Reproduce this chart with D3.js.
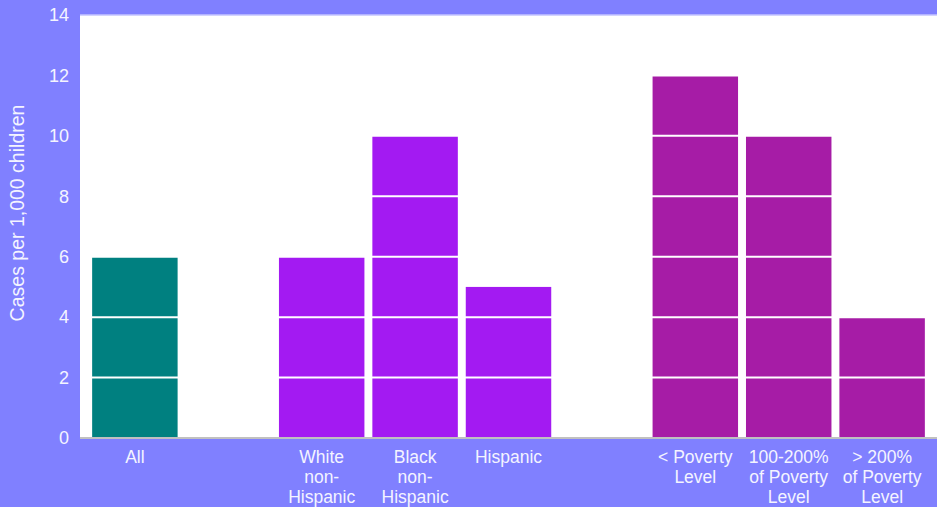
<!DOCTYPE html>
<html>
<head>
<meta charset="utf-8">
<script src="https://cdn.jsdelivr.net/npm/d3@7"></script>
<style>
  html, body { margin: 0; padding: 0; background: #8080ff; }
  svg { display: block; }
</style>
</head>
<body>
<div id="chart"></div>
<script>
// categories (empty slots keep the gaps between groups)
var categories = ["All", "gap1", "White non-Hispanic", "Black non-Hispanic", "Hispanic", "gap2", "< Poverty Level", "100-200% of Poverty Level", "> 200% of Poverty Level"];
var labelLines = [["All"], [], ["White", "non-", "Hispanic"], ["Black", "non-", "Hispanic"], ["Hispanic"], [], ["< Poverty", "Level"], ["100-200%", "of Poverty", "Level"], ["> 200%", "of Poverty", "Level"]];
var values = [6, null, 6, 10, 5, null, 12, 10, 4];
var groups = ["all", null, "race", "race", "race", null, "poverty", "poverty", "poverty"];
var yTicks = [0, 2, 4, 6, 8, 10, 12, 14];

var colors = {all: "#008080", race: "#a31af2", poverty: "#a61ca6"};

var W = 937, H = 507;
var margin = {top: 15, right: 0, bottom: 69, left: 80};
var width = W - margin.left - margin.right;
var height = H - margin.top - margin.bottom;

var svg = d3.select("#chart").append("svg")
    .attr("width", W)
    .attr("height", H)
    .style("font-family", "'Liberation Sans', Arial, sans-serif");

svg.append("rect").attr("width", W).attr("height", H).attr("fill", "#8080ff");

var g = svg.append("g").attr("transform", "translate(" + margin.left + "," + margin.top + ")");

var x = d3.scaleBand().domain(categories).range([0, width]).paddingInner(0.085).paddingOuter(0.13);
var y = d3.scaleLinear().domain([0, 14]).range([height, 0]);

// plot area
g.append("rect").attr("width", width).attr("height", height).attr("fill", "white");
g.append("line").attr("x1", 0).attr("x2", width).attr("y1", 0).attr("y2", 0)
    .attr("stroke", "#c4c4ff").attr("stroke-width", 1.5);

// bars
var data = categories.map(function(c, i){ return {cat: c, v: values[i], grp: groups[i]}; })
    .filter(function(d){ return d.v !== null; });

g.selectAll(".bar").data(data).enter()
    .append("rect")
    .attr("class", "bar")
    .attr("x", function(d){ return x(d.cat); })
    .attr("y", function(d){ return y(d.v); })
    .attr("width", x.bandwidth())
    .attr("height", function(d){ return height - y(d.v); })
    .attr("fill", function(d){ return colors[d.grp]; });

// gridlines on top of bars
g.selectAll(".grid").data(yTicks.filter(function(t){ return t > 0 && t < 14; })).enter()
    .append("line")
    .attr("class", "grid")
    .attr("x1", 0).attr("x2", width)
    .attr("y1", function(d){ return y(d); })
    .attr("y2", function(d){ return y(d); })
    .attr("stroke", "white").attr("stroke-width", 2);

// x axis line
g.append("line").attr("x1", 0).attr("x2", width).attr("y1", height).attr("y2", height)
    .attr("stroke", "#c0c0c0").attr("stroke-width", 2);

// y axis
var yAxis = g.append("g").call(d3.axisLeft(y).tickValues(yTicks).tickSize(0).tickPadding(11));
yAxis.select(".domain").remove();
yAxis.selectAll("text").attr("fill", "#f4f4ff").style("font-size", "18px")
    .style("font-family", "'Liberation Sans', Arial, sans-serif");

// x labels
var xl = g.selectAll(".xlab").data(categories).enter()
    .append("text")
    .attr("class", "xlab")
    .attr("text-anchor", "middle")
    .attr("fill", "#f4f4ff")
    .style("font-size", "17.5px")
    .attr("transform", function(d){ return "translate(" + (x(d) + x.bandwidth() / 2) + "," + (height + 25) + ")"; });
xl.selectAll("tspan").data(function(d, i){ return labelLines[i]; }).enter()
    .append("tspan")
    .attr("x", 0)
    .attr("y", function(d, i){ return i * 20; })
    .text(function(d){ return d; });

// y axis title
svg.append("text")
    .attr("transform", "translate(24,213) rotate(-90)")
    .attr("text-anchor", "middle")
    .attr("fill", "#f4f4ff")
    .style("font-size", "19.5px")
    .text("Cases per 1,000 children");
</script>
</body>
</html>
